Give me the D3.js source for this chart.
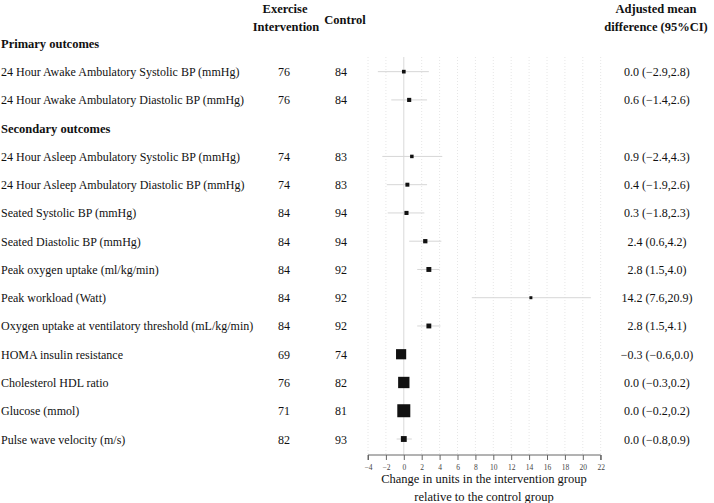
<!DOCTYPE html>
<html><head><meta charset="utf-8">
<script src="https://cdn.jsdelivr.net/npm/d3@7"></script>
<style>
body{margin:0;background:#fff;}
svg{display:block;font-family:"Liberation Serif","Times New Roman",serif;}
</style></head>
<body><svg id="c" width="714" height="503"></svg>
<script>
const labels = [
 "24 Hour Awake Ambulatory Systolic BP (mmHg)",
 "24 Hour Awake Ambulatory Diastolic BP (mmHg)",
 "24 Hour Asleep Ambulatory Systolic BP (mmHg)",
 "24 Hour Asleep Ambulatory Diastolic BP (mmHg)",
 "Seated Systolic BP (mmHg)",
 "Seated Diastolic BP (mmHg)",
 "Peak oxygen uptake (ml/kg/min)",
 "Peak workload (Watt)",
 "Oxygen uptake at ventilatory threshold (mL/kg/min)",
 "HOMA insulin resistance",
 "Cholesterol HDL ratio",
 "Glucose (mmol)",
 "Pulse wave velocity (m/s)"
];
const groups = ["Primary","Primary","Secondary","Secondary","Secondary","Secondary","Secondary","Secondary","Secondary","Secondary","Secondary","Secondary","Secondary"];
const groupTitles = {Primary:"Primary outcomes", Secondary:"Secondary outcomes"};
const nExercise = [76,76,74,74,84,84,84,84,84,69,76,71,82];
const nControl  = [84,84,83,83,94,94,92,92,92,74,82,81,93];
const est   = [0.0,0.6,0.9,0.4,0.3,2.4,2.8,14.2,2.8,-0.3,0.0,0.0,0.0];
const lower = [-2.9,-1.4,-2.4,-1.9,-1.8,0.6,1.5,7.6,1.5,-0.6,-0.3,-0.2,-0.8];
const upper = [2.8,2.6,4.3,2.6,2.3,4.2,4.0,20.9,4.1,0.0,0.2,0.2,0.9];
const ticks = [-4,-2,0,2,4,6,8,10,12,14,16,18,20,22];

// build row list with group headers
const rows = [];
let prev = null;
labels.forEach((l,i)=>{
  if(groups[i]!==prev){ rows.push({type:"header", text:groupTitles[groups[i]]}); prev=groups[i]; }
  rows.push({type:"item", i});
});

const svg = d3.select("#c");
const x = d3.scaleLinear().domain([-4,22]).range([368,600.7]);
const y = d3.scaleLinear().domain([0, rows.length-1]).range([43.4, 439]);
const inv = est.map((d,i)=>1/(upper[i]-lower[i]));
const box = d3.scalePow().exponent(0.75).domain([0, d3.max(inv)]).range([2.2,13]);
const gridTop = 57, axisY = 455;

// grid
svg.append("g").selectAll("line").data(ticks).join("line")
  .attr("x1",d=>x(d)).attr("x2",d=>x(d)).attr("y1",gridTop).attr("y2",axisY)
  .attr("stroke", d=>d===0?"#d9d9d9":"#e6e6e6")
  .attr("stroke-width",1)
  .attr("stroke-dasharray", d=>d===0?null:"1,2");

// axis
const ax = svg.append("g").attr("transform",`translate(0,${axisY})`)
  .call(d3.axisBottom(x).tickValues(ticks).tickSize(5).tickFormat(d=>d<0?"\u2212"+Math.abs(d):d));
ax.select(".domain").attr("stroke","#666").attr("d",`M${x(-4)},5V0H${x(22)}V5`);
ax.selectAll(".tick line").attr("stroke","#666");
ax.selectAll(".tick text").attr("fill","#444").style("font-size","7.5px")
  .style("font-family","'Liberation Serif',serif").attr("dy","0.9em");

// column headers
const hdr = svg.append("g").style("font-weight","bold").style("font-size","12.5px").attr("fill","#111");
hdr.append("text").attr("x",285).attr("y",13).attr("text-anchor","middle").text("Exercise");
hdr.append("text").attr("x",286).attr("y",31).attr("text-anchor","middle").text("Intervention");
hdr.append("text").attr("x",345).attr("y",24).attr("text-anchor","middle").text("Control");
hdr.append("text").attr("x",656).attr("y",13).attr("text-anchor","middle").text("Adjusted mean");
hdr.append("text").attr("x",656).attr("y",31).attr("text-anchor","middle").text("difference (95%CI)");

const fmt = v => (v<0?"\u2212":"") + Math.abs(v).toFixed(1);
const g = svg.append("g").style("font-size","12px").attr("fill","#111");
rows.forEach((r,k)=>{
  const yy = y(k);
  if(r.type==="header"){
    g.append("text").attr("x",1).attr("y",yy+4.5).style("font-weight","bold").style("font-size","12.5px").text(r.text);
  } else {
    const i=r.i;
    g.append("text").attr("x",1).attr("y",yy+4.5).text(labels[i]);
    g.append("text").attr("x",284).attr("y",yy+4.5).attr("text-anchor","middle").text(nExercise[i]);
    g.append("text").attr("x",341).attr("y",yy+4.5).attr("text-anchor","middle").text(nControl[i]);
    g.append("text").attr("x",657).attr("y",yy+4.5).attr("text-anchor","middle")
      .text(`${fmt(est[i])} (${fmt(lower[i])},${fmt(upper[i])})`);
    svg.append("line").attr("x1",x(lower[i])).attr("x2",x(upper[i])).attr("y1",yy).attr("y2",yy)
      .attr("stroke","#d6d6d6").attr("stroke-width",1);
    const s = box(inv[i]);
    svg.append("rect").attr("x",x(est[i])-s/2).attr("y",yy-s/2).attr("width",s).attr("height",s)
      .attr("fill","#111");
  }
});

// axis title
const t = svg.append("g").style("font-size","12.5px").attr("fill","#111").attr("text-anchor","middle");
t.append("text").attr("x",484).attr("y",483).text("Change in units in the intervention group");
t.append("text").attr("x",484).attr("y",501).text("relative to the control group");
</script></body></html>
